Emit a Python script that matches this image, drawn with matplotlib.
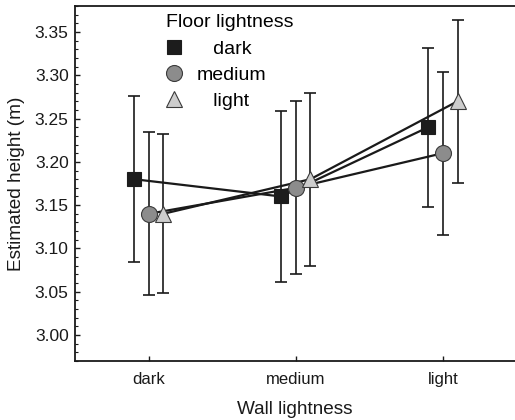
import numpy as np
import matplotlib
matplotlib.use('Agg')
import matplotlib.pyplot as plt
from matplotlib.ticker import MultipleLocator, FormatStrFormatter

plt.rcParams['font.family'] = ['Liberation Sans', 'DejaVu Sans']

# --- data ---
wall_levels = ['dark', 'medium', 'light']
floor_levels = ['dark', 'medium', 'light']

mean_dark = [3.18, 3.16, 3.24]
err_dark = [0.096, 0.099, 0.092]
mean_medium = [3.14, 3.17, 3.21]
err_medium = [0.094, 0.100, 0.094]
mean_light = [3.14, 3.18, 3.27]
err_light = [0.092, 0.100, 0.094]

series = [
    (mean_dark, err_dark, dict(marker='s', ms=10, mfc='#1c1c1c', mec='#1c1c1c')),
    (mean_medium, err_medium, dict(marker='o', ms=11.5, mfc='#8c8c8c', mec='#3a3a3a')),
    (mean_light, err_light, dict(marker='^', ms=12, mfc='#cdcdcd', mec='#3a3a3a')),
]
offsets = [-0.1, 0.0, 0.1]

fig = plt.figure(figsize=(5.15, 4.2), dpi=100)
ax = fig.add_axes([0.1456, 0.1405, 0.8544, 0.8452])

x = np.arange(len(wall_levels))
handles = []
for (m, e, style), off, lab in zip(series, offsets, floor_levels):
    xs = x + off
    ax.errorbar(xs, m, yerr=e, fmt='none', ecolor='#1a1a1a', elinewidth=1.2,
                capsize=4, capthick=1.2, zorder=2)
    ax.plot(xs, m, color='#1a1a1a', lw=1.6, zorder=3)
    h, = ax.plot(xs, m, ls='none', mew=0.8, zorder=4, **style)
    handles.append(h)

ax.set_xlim(-0.5, 2.49)
ax.set_ylim(2.97, 3.38)
ax.set_xticks(x)
ax.set_xticklabels(wall_levels)
ax.yaxis.set_major_locator(MultipleLocator(0.05))
ax.yaxis.set_minor_locator(MultipleLocator(0.01))
ax.yaxis.set_major_formatter(FormatStrFormatter('%.2f'))
ax.tick_params(axis='both', which='both', direction='in',
               colors='#1a1a1a', top=False, right=False)
ax.tick_params(axis='y', which='major', length=3.5, width=1, pad=4.5,
               labelsize=12.5)
ax.tick_params(axis='y', which='minor', length=2, width=0.8)
ax.tick_params(axis='x', which='major', length=3.5, width=1, pad=8,
               labelsize=12)

for side in ['left', 'bottom', 'top']:
    ax.spines[side].set_linewidth(1.3)
    ax.spines[side].set_color('#1a1a1a')
ax.spines['right'].set_visible(False)

ax.set_xlabel('Wall lightness', fontsize=13.7, labelpad=10, color='#1a1a1a')
ax.set_ylabel('Estimated height (m)', fontsize=13.7, labelpad=7, color='#1a1a1a')

# legend labels centred under the title, as in the original
leg_labels = ['   dark', 'medium', '   light']
leg = ax.legend(handles=handles, labels=leg_labels, title='Floor lightness',
                loc='upper left', bbox_to_anchor=(0.19, 1.0), frameon=False,
                fontsize=14, title_fontsize=14, handlelength=0.8,
                handletextpad=0.75, labelspacing=0.42, borderaxespad=0)
leg._legend_box.align = 'left'
leg._legend_box.sep = 7

fig.savefig('out.png', dpi=100)
